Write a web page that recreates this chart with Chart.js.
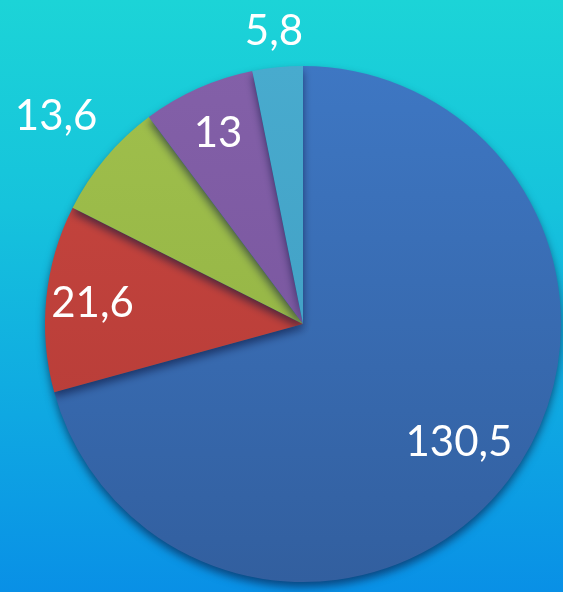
<!DOCTYPE html>
<html>
<head>
<meta charset="utf-8">
<script src="https://cdn.jsdelivr.net/npm/chart.js@4"></script>
<style>
  html, body { margin: 0; padding: 0; }
  body {
    width: 563px; height: 592px; overflow: hidden;
    background: linear-gradient(to bottom, #1cd4d7 0%, #16c3dc 35%, #0fa8e2 70%, #0990e6 100%);
  }
  #wrap { position: relative; width: 563px; height: 592px; }
</style>
</head>
<body>
<div id="wrap"><canvas id="chart"></canvas></div>
<script>
// valeurs, dans l'ordre horaire depuis midi
const categories = ["A", "B", "C", "D", "E"];
const values = [130.5, 21.6, 13.6, 13, 5.8];
const valueLabels = ["130,5", "21,6", "13,6", "13", "5,8"];

const topColors = ["#3e77c3", "#c8463f", "#a0c04c", "#8360a8", "#48abce"];
const bottomColors = ["#325f9f", "#b23a36", "#8eae42", "#74519a", "#3e99bf"];
// distance du libellé par rapport au rayon (1 = bord)
const labelRadius = [0.76, 0.82, 1.25, 0.81, 1.14];

const pieShadow = {
  id: "pieShadow",
  beforeDatasetsDraw(chart) {
    const ctx = chart.ctx;
    ctx.save();
    ctx.shadowColor = "rgba(10, 20, 60, 0.6)";
    ctx.shadowBlur = 8;
    ctx.shadowOffsetY = 5;
  },
  afterDatasetsDraw(chart) {
    chart.ctx.restore();
  }
};

const sliceLabels = {
  id: "sliceLabels",
  afterDatasetsDraw(chart) {
    const ctx = chart.ctx;
    const meta = chart.getDatasetMeta(0);
    ctx.save();
    ctx.fillStyle = "#ffffff";
    ctx.font = "42px Lato, 'Open Sans', sans-serif";
    ctx.textAlign = "center";
    ctx.textBaseline = "middle";
    meta.data.forEach((arc, i) => {
      const p = arc.getProps(["x", "y", "startAngle", "endAngle", "outerRadius"], true);
      const mid = (p.startAngle + p.endAngle) / 2;
      const r = p.outerRadius * labelRadius[i];
      ctx.fillText(valueLabels[i], p.x + Math.cos(mid) * r, p.y + Math.sin(mid) * r);
    });
    ctx.restore();
  }
};

function sliceFill(context) {
  const chart = context.chart;
  const area = chart.chartArea;
  if (!area) return topColors[context.dataIndex];
  const g = chart.ctx.createLinearGradient(0, area.top, 0, area.bottom);
  g.addColorStop(0, topColors[context.dataIndex]);
  g.addColorStop(1, bottomColors[context.dataIndex]);
  return g;
}

const canvas = document.getElementById("chart");
canvas.width = 563;
canvas.height = 592;

new Chart(canvas, {
  type: "pie",
  data: {
    labels: categories,
    datasets: [{
      data: values,
      backgroundColor: sliceFill,
      borderWidth: 0
    }]
  },
  options: {
    responsive: false,
    animation: false,
    layout: { padding: { left: 43, right: 0, top: 66, bottom: 10 } },
    plugins: {
      legend: { display: false },
      tooltip: { enabled: false }
    }
  },
  plugins: [pieShadow, sliceLabels]
});
</script>
</body>
</html>
